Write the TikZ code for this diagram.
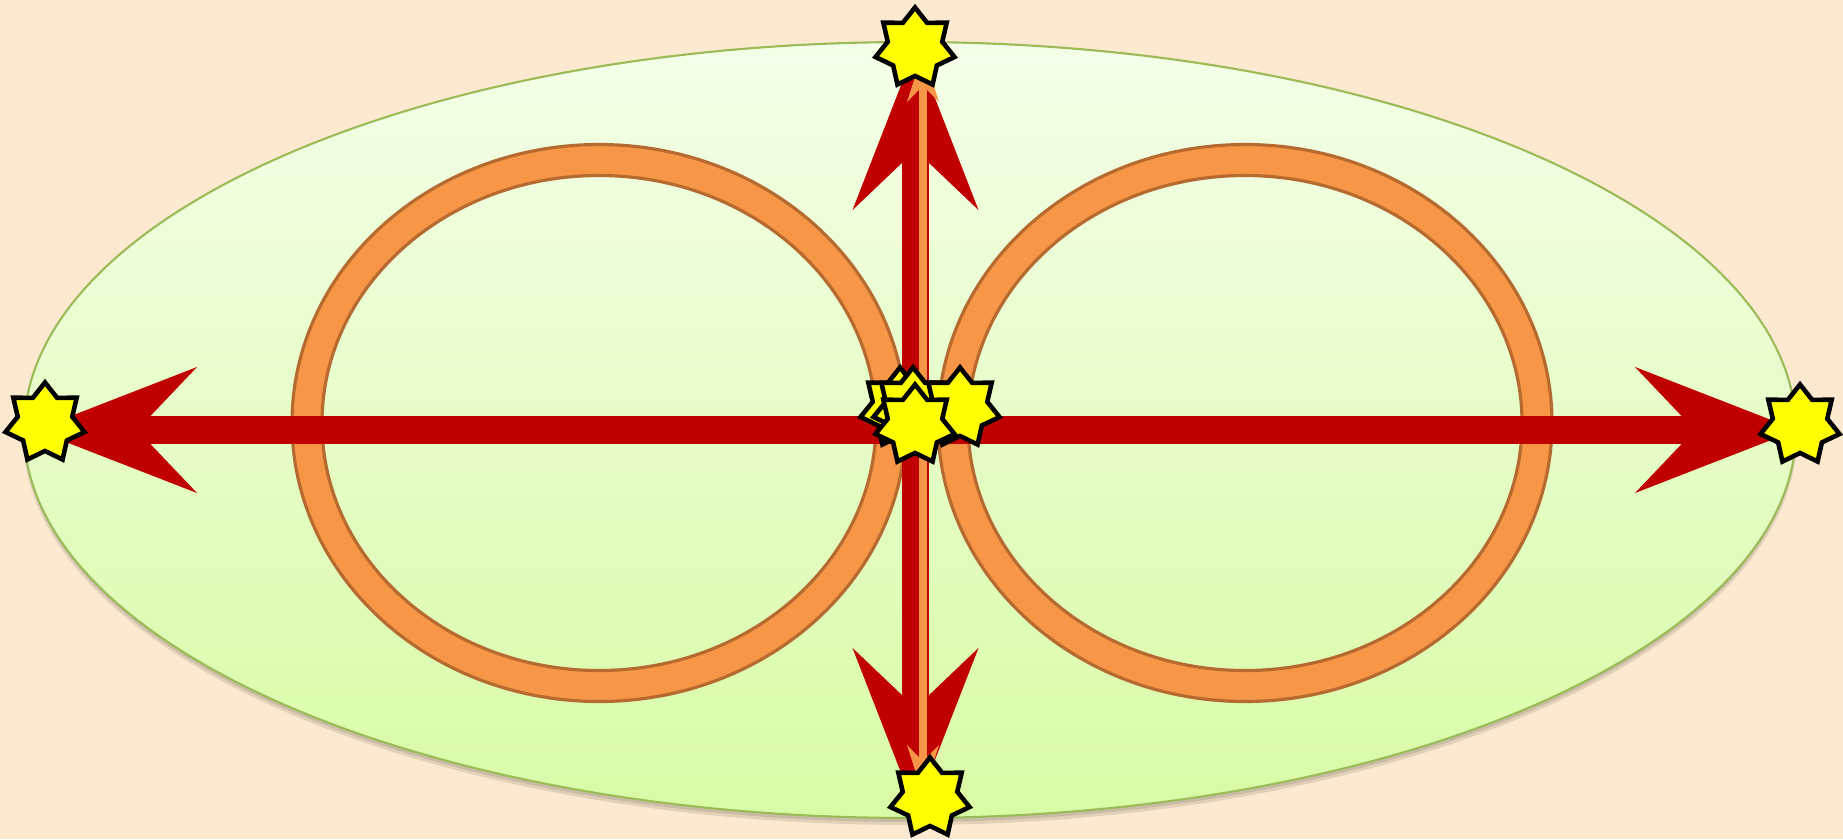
\documentclass[tikz,border=0pt]{standalone}
\usepackage{xcolor}
\usepackage{tikz}
\usetikzlibrary{shapes.geometric,arrows.meta,positioning,calc}
\definecolor{Sand}{HTML}{FCE9CF}
\definecolor{LeafTop}{HTML}{F4FFE9}
\definecolor{LeafBot}{HTML}{D8FBA5}
\definecolor{LeafEdge}{HTML}{9BBB59}
\definecolor{Ring}{HTML}{F79646}
\definecolor{RingEdge}{HTML}{B66A30}
\definecolor{Arrow}{HTML}{C00000}
\definecolor{Spark}{HTML}{FFFF00}
\tikzset{
  bighead/.tip={Stealth[length=1.62cm, width=1.26cm, inset=0.6cm, line width=0pt]},
  smallhead/.tip={Stealth[length=0.5cm, width=0.32cm, line width=0pt]},
  ring/.style={fill=Ring, draw=RingEdge, line width=0.9pt, even odd rule},
  redarrow/.style={draw=Arrow, fill=Arrow, line width=7.7pt, bighead-bighead},
  thinarrow/.style={draw=Ring, fill=Ring, line width=2.3pt, smallhead-smallhead},
  starnode/.style={star, star points=7, star point ratio=1.45, fill=Spark,
                   draw=black, line width=1.3pt, minimum size=0.81cm, inner sep=0pt}
}
\begin{document}
\begin{tikzpicture}[x=0.01cm, y=-0.01cm]
  \useasboundingbox (0,0) rectangle (1843,839);
  \fill[Sand] (0,0) rectangle (1843,839);

  % outer field
  \coordinate (ec) at (910,430);
  \fill[black, opacity=0.10] ($(ec)+(0,5)$) ellipse [x radius=887, y radius=390];
  \fill[black, opacity=0.10] ($(ec)+(0,3)$) ellipse [x radius=886, y radius=389];
  \shade[top color=LeafTop, bottom color=LeafBot, draw=LeafEdge, line width=0.6pt]
    (ec) ellipse [x radius=886, y radius=388];

  % the two loops
  \coordinate (lc) at (599,423);
  \coordinate (rc) at (1245,423);
  \path[ring] (lc) ellipse [x radius=307, y radius=278.5]
              (lc) ellipse [x radius=277, y radius=247.5];
  \path[ring] (rc) ellipse [x radius=307, y radius=278.5]
              (rc) ellipse [x radius=277, y radius=247.5];

  % arrow ends
  \coordinate (hl) at (35,430);
  \coordinate (hr) at (1797,430);
  \coordinate (vt) at (915.5,48);
  \coordinate (vb) at (915.5,810);
  \coordinate (ot) at (923,52);
  \coordinate (ob) at (923,795);

  \draw[redarrow] (hl) -- (hr);
  \draw[redarrow] (vt) -- (vb);
  \draw[thinarrow] (ot) -- (ob);

  % stars
  \node[starnode] (top) at (915,48) {};
  \node[starnode] (bot) at (930,798) {};
  \node[starnode] (lft) at (45,423) {};
  \node[starnode] (rgt) at (1800,425) {};
  \node[starnode] (ca) at (900,408) {};
  \node[starnode] (cb) at (913,408) {};
  \node[starnode] (cc) at (960,408) {};
  \node[starnode] (cd) at (915,425) {};
\end{tikzpicture}
\end{document}
